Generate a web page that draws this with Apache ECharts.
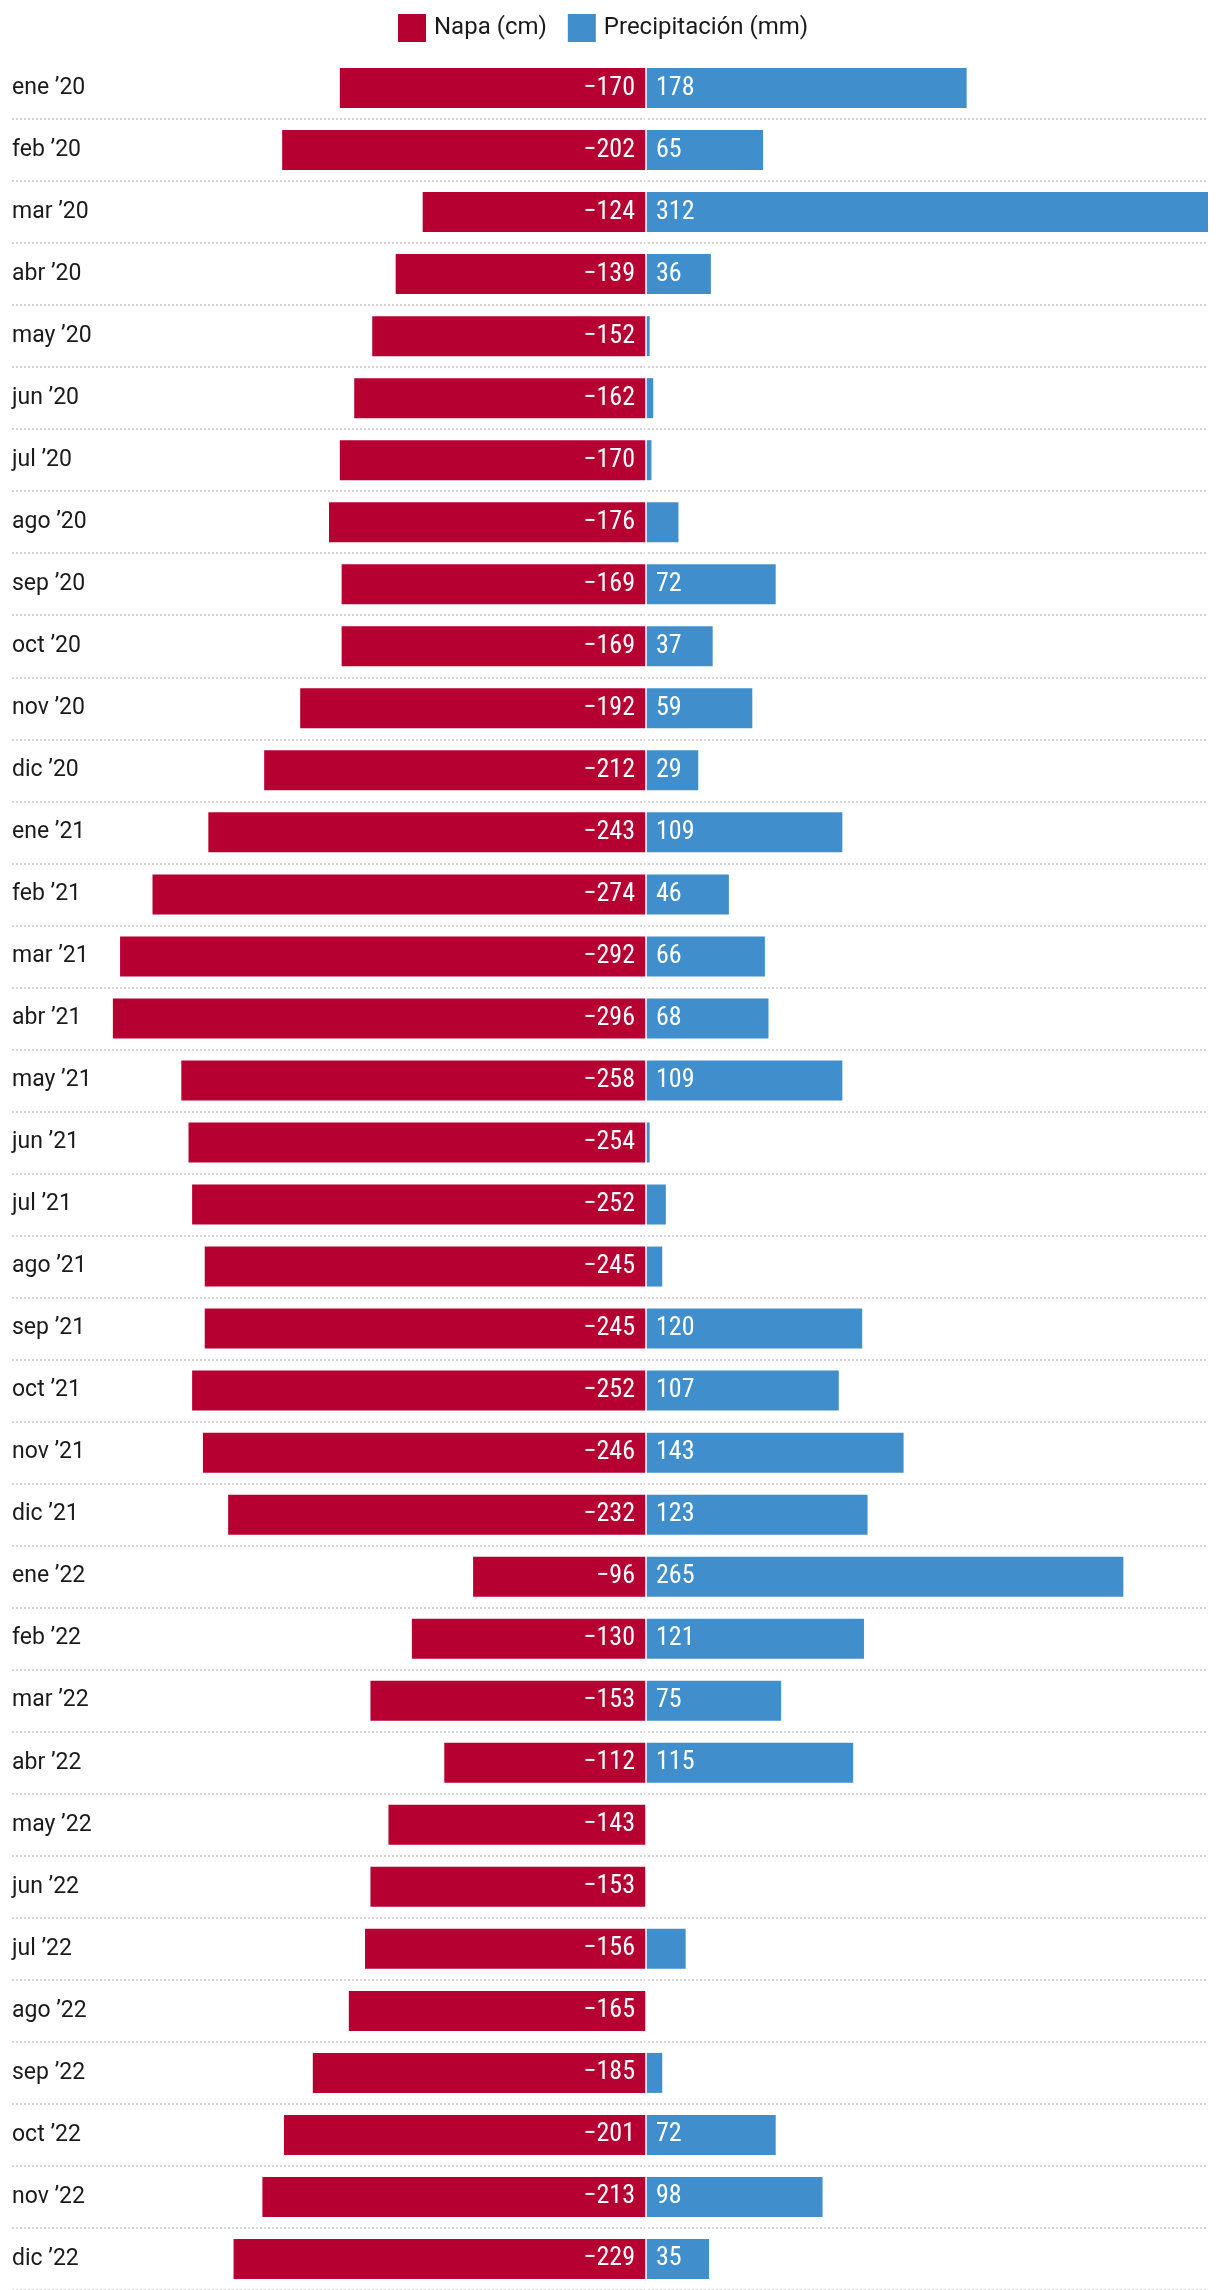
<!DOCTYPE html>
<html>
<head>
<meta charset="utf-8">
<script src="https://cdn.jsdelivr.net/npm/echarts@6/dist/echarts.min.js"></script>
<style>
  html, body { margin: 0; padding: 0; background: #fff; }
  #chart { width: 1220px; height: 2290px; }
</style>
</head>
<body>
<div id="chart"></div>
<script>
const categories = [
  "ene ’20","feb ’20","mar ’20","abr ’20","may ’20","jun ’20","jul ’20","ago ’20","sep ’20","oct ’20","nov ’20","dic ’20",
  "ene ’21","feb ’21","mar ’21","abr ’21","may ’21","jun ’21","jul ’21","ago ’21","sep ’21","oct ’21","nov ’21","dic ’21",
  "ene ’22","feb ’22","mar ’22","abr ’22","may ’22","jun ’22","jul ’22","ago ’22","sep ’22","oct ’22","nov ’22","dic ’22"
];
const napa = [
  -170,-202,-124,-139,-152,-162,-170,-176,-169,-169,-192,-212,
  -243,-274,-292,-296,-258,-254,-252,-245,-245,-252,-246,-232,
  -96,-130,-153,-112,-143,-153,-156,-165,-185,-201,-213,-229
];
const precipitacion = [
  178,65,312,36,2,4,3,18,72,37,59,29,
  109,46,66,68,109,2,11,9,120,107,143,123,
  265,121,75,115,0,0,22,0,9,72,98,35
];
const seriesNames = ["Napa (cm)", "Precipitación (mm)"];

const RED = "#b60031";
const BLUE = "#408ecb";
const barFont = "'Liberation Sans Narrow', 'Roboto Condensed', 'DejaVu Sans Condensed', sans-serif";

const chart = echarts.init(document.getElementById("chart"), null, { renderer: "canvas" });
chart.setOption({
  animation: false,
  backgroundColor: "#fff",
  legend: {
    data: seriesNames,
    left: 393,
    top: 9,
    itemWidth: 28,
    itemHeight: 28,
    itemGap: 21,
    icon: "rect",
    textStyle: { fontFamily: "Roboto, sans-serif", fontSize: 24, color: "#1a1a1a", padding: [0, 0, 0, 3] }
  },
  grid: { left: 12, right: 12, top: 57, height: 2234, containLabel: false },
  xAxis: {
    type: "value",
    min: -352,
    max: 312,
    axisLine: { show: false },
    axisTick: { show: false },
    axisLabel: { show: false },
    splitLine: { show: false }
  },
  yAxis: {
    type: "category",
    data: categories,
    inverse: true,
    axisLine: { show: false },
    axisTick: { show: false },
    axisLabel: {
      inside: true,
      margin: 0,
      fontFamily: "Roboto, sans-serif",
      fontSize: 23,
      color: "#1a1a1a"
    },
    splitLine: {
      show: true,
      interval: function (i) { return i !== 0; },
      lineStyle: { color: "#d4d4d4", width: 2, type: [2, 2] }
    }
  },
  series: [
    {
      name: seriesNames[0],
      type: "bar",
      stack: "total",
      data: napa,
      barWidth: 40,
      itemStyle: { color: RED },
      label: {
        show: true,
        position: "insideRight",
        distance: 11,
        fontFamily: barFont,
        fontSize: 26,
        color: "#fff",
        formatter: p => "\u2212" + Math.abs(p.value)
      },
      markLine: {
        silent: true,
        symbol: "none",
        label: { show: false },
        lineStyle: { color: "rgba(255,255,255,0.75)", width: 2, type: "solid" },
        data: [{ xAxis: 0 }]
      }
    },
    {
      name: seriesNames[1],
      type: "bar",
      stack: "total",
      data: precipitacion,
      barWidth: 40,
      itemStyle: { color: BLUE },
      label: {
        show: true,
        position: "insideLeft",
        distance: 10,
        fontFamily: barFont,
        fontSize: 26,
        color: "#fff",
        formatter: p => (p.value >= 25 ? String(p.value) : "")
      }
    }
  ]
});
</script>
</body>
</html>
